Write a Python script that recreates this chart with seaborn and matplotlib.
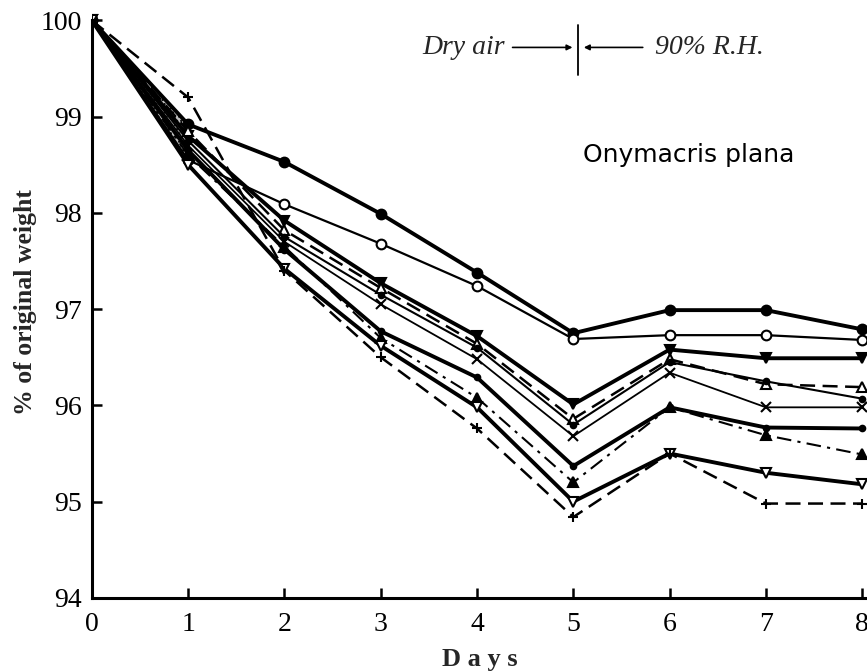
import numpy as np
import pandas as pd
import matplotlib
matplotlib.use("Agg")
import matplotlib.pyplot as plt
import seaborn as sns

days = [0, 1, 2, 3, 4, 5, 6, 7, 8]
filled_circle = [100, 98.92, 98.53, 97.99, 97.38, 96.75, 96.99, 96.99, 96.79]
open_circle = [100, 98.55, 98.09, 97.68, 97.24, 96.69, 96.73, 96.73, 96.68]
filled_down_tri = [100, 98.8, 97.92, 97.27, 96.72, 96.01, 96.58, 96.49, 96.49]
open_up_tri = [100, 98.85, 97.82, 97.22, 96.64, 95.86, 96.48, 96.22, 96.19]
small_dot = [100, 98.75, 97.75, 97.15, 96.6, 95.8, 96.45, 96.25, 96.07]
cross = [100, 98.7, 97.7, 97.05, 96.48, 95.68, 96.34, 95.98, 95.98]
filled_circle_low = [100, 98.65, 97.62, 96.77, 96.29, 95.37, 95.98, 95.77, 95.76]
filled_up_tri = [100, 98.6, 97.65, 96.7, 96.08, 95.2, 95.98, 95.69, 95.49]
open_down_tri = [100, 98.5, 97.42, 96.62, 95.98, 95.0, 95.5, 95.3, 95.18]
plus = [100, 99.2, 97.4, 96.5, 95.76, 94.84, 95.5, 94.98, 94.98]

y_ticks = [94, 95, 96, 97, 98, 99, 100]
x_ticks = [0, 1, 2, 3, 4, 5, 6, 7, 8]

sns.set_theme(style="white")
plt.rcParams['font.family'] = ['Liberation Serif', 'DejaVu Serif']

fig = plt.figure(figsize=(8.67, 6.71), dpi=100)
ax = fig.add_axes([0.106, 0.109, 0.894, 0.882])

series = [
    (filled_circle, 'o', 'black', '-', 2.8),
    (open_circle, 'o', 'white', '-', 1.6),
    (filled_down_tri, 'v', 'black', '-', 2.8),
    (open_up_tri, '^', 'white', (0, (6, 3)), 1.8),
    (small_dot, '.', 'black', '-', 1.5),
    (cross, 'x', 'black', '-', 1.3),
    (filled_circle_low, '.', 'black', '-', 2.8),
    (filled_up_tri, '^', 'black', (0, (7, 3, 1.5, 3)), 1.5),
    (open_down_tri, 'v', 'white', '-', 2.8),
    (plus, '+', 'black', (0, (6, 3)), 1.8),
]

for vals, mk, fc, ls, lw in series:
    df = pd.DataFrame({'day': days, 'w': vals})
    ms = 8 if mk == '.' else 7
    sns.lineplot(data=df, x='day', y='w', ax=ax, color='black', marker=mk,
                 markerfacecolor=fc, markeredgecolor='black', markersize=ms,
                 markeredgewidth=1.5, linestyle=ls, linewidth=lw)

# stippled fan near the start
lo = np.minimum.reduce([np.array(s[:2]) for s, *_ in series])
ax.fill_between(days[:2], lo, filled_circle[:2], facecolor='0.75',
                edgecolor='black', hatch='....', linewidth=0)

ax.set_xlim(0, 8.05)
ax.set_ylim(94, 100.15)
ax.set_xticks(x_ticks)
ax.set_yticks(y_ticks)
ax.tick_params(axis='both', direction='in', length=7, width=1.8, labelsize=20,
               colors='black', left=True, bottom=True)
ax.tick_params(axis='x', pad=10)
ax.tick_params(axis='y', pad=7)
for s in ['top', 'right']:
    ax.spines[s].set_visible(False)
for s in ['left', 'bottom']:
    ax.spines[s].set_color('black')
    ax.spines[s].set_linewidth(2.2)
ax.spines['left'].set_bounds(94, 100)
ax.grid(False)

ax.set_xlabel('D a y s', fontsize=19, fontweight='bold', labelpad=8)
ax.set_ylabel('% of original weight', fontsize=18.5, fontweight='bold', labelpad=3)

ax.text(6.2, 98.6, 'Onymacris plana', fontsize=18, family='DejaVu Sans',
        ha='center', va='center', color='black')

ax.text(4.29, 99.72, 'Dry air', fontsize=20, style='italic', ha='right', va='center')
ax.text(5.85, 99.72, '90% R.H.', fontsize=20, style='italic', ha='left', va='center')
ax.plot([5.05, 5.05], [99.43, 99.95], color='black', lw=1.3)
ax.annotate('', xy=(5.02, 99.72), xytext=(4.34, 99.72),
            arrowprops=dict(arrowstyle='-|>', color='black', lw=1.2, mutation_scale=8))
ax.annotate('', xy=(5.08, 99.72), xytext=(5.75, 99.72),
            arrowprops=dict(arrowstyle='-|>', color='black', lw=1.2, mutation_scale=8))

fig.savefig('out.png', dpi=100, facecolor='white')
